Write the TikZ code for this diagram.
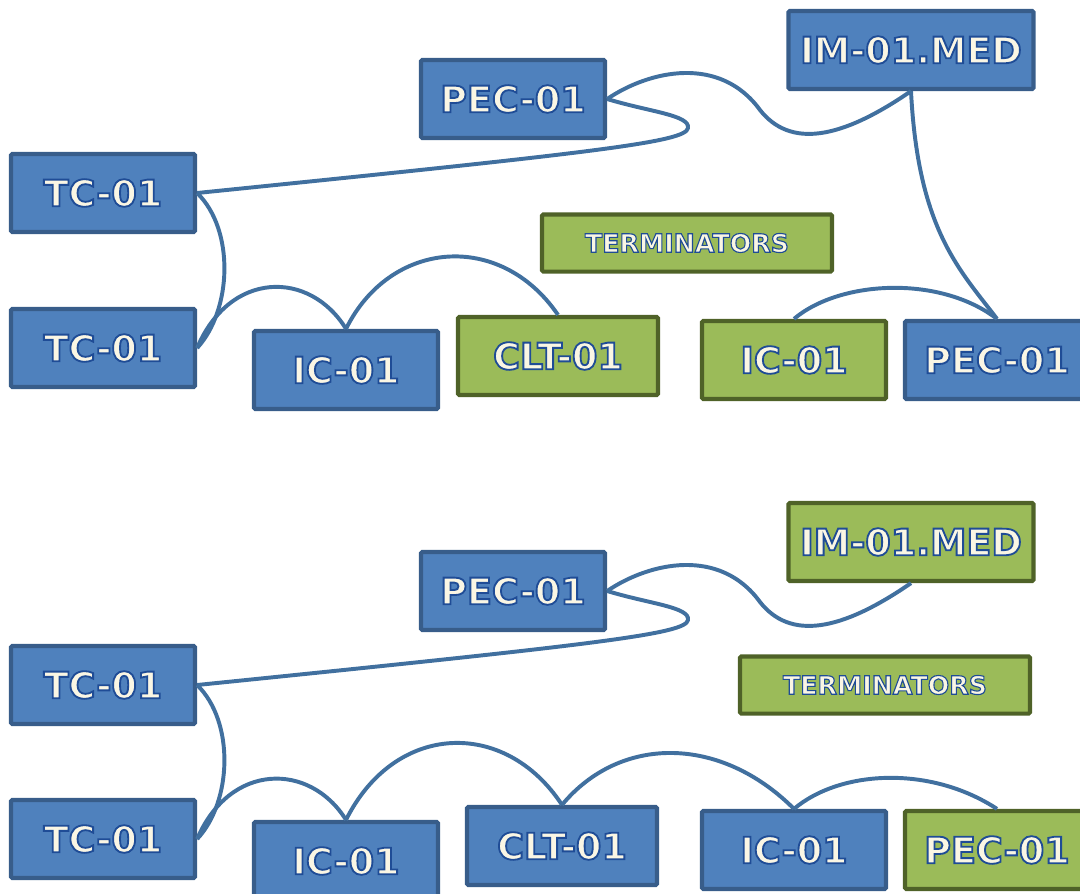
\documentclass[tikz,border=0pt]{standalone}
\usepackage{fontspec}
\setmainfont{DejaVu Sans}
\usepackage{tikz}
\usetikzlibrary{positioning,calc}
\definecolor{boxblue}{HTML}{4F81BD}
\definecolor{edgeblue}{HTML}{385D8A}
\definecolor{boxgreen}{HTML}{9BBB59}
\definecolor{edgegreen}{HTML}{4F6228}
\definecolor{linkblue}{HTML}{41709F}
\definecolor{txtfill}{HTML}{FAF6E4}
% outlined label: cream fill, dark blue stroke
\newcommand{\lbl}[2][1.3]{\special{pdf:literal direct 2 Tr #1 w 0.12 0.30 0.59 RG}#2\special{pdf:literal direct 0 Tr}}

\begin{document}
\begin{tikzpicture}[x=0.025cm, y=-0.025cm,
    base/.style={rectangle, rounded corners=1pt, line width=3pt, inner sep=0pt, text=txtfill,
        minimum width=4.6cm, minimum height=1.95cm, font=\bfseries\fontsize{26}{28}\selectfont},
    bluebox/.style={base, fill=boxblue, draw=edgeblue},
    greenbox/.style={base, fill=boxgreen, draw=edgegreen},
    termbox/.style={greenbox, minimum width=7.25cm, minimum height=1.43cm,
        font=\bfseries\fontsize{18}{20}\selectfont},
    link/.style={draw=linkblue, line width=2.8pt}]
        \useasboundingbox (0,0) rectangle (1080,894);

        % top diagram, boxes
        \node[bluebox] (pecA) at (513,99) {\lbl{PEC-01}};
        \node[bluebox, minimum width=6.125cm] (imA) at (911,50) {\lbl{IM-01.MED}};
        \node[bluebox] (tcA) at (103,193) {\lbl{TC-01}};
        \node[bluebox] (tcB) at (103,348) {\lbl{TC-01}};
        \node[termbox] (termA) at (687,243) {\lbl[0.8]{TERMINATORS}};
        \node[bluebox] (icA) at (346,370) {\lbl{IC-01}};
        \node[greenbox, minimum width=5cm] (cltA) at (558,356) {\lbl{CLT-01}};
        \node[greenbox] (icB) at (794,360) {\lbl{IC-01}};
        \node[bluebox] (pecB) at (997,360) {\lbl{PEC-01}};

        % top diagram, links
        \draw[link] (pecA.east) .. controls (650,112) and (690,115) .. (688,128)
            .. controls (686,142) and (600,152) .. (tcA.east);
        \draw[link] (pecA.east) .. controls (650,70) and (720,55) .. (760,110)
            .. controls (790,148) and (840,140) .. (imA.south);
        \draw[link] (imA.south) .. controls (918,230) and (960,270) .. (pecB.north);
        \draw[link] (icB.north) .. controls (840,280) and (940,275) .. (pecB.north);
        \draw[link] (tcA.east) .. controls (235,230) and (232,310) .. (tcB.east);
        \draw[link] (tcB.east) .. controls (230,270) and (310,270) .. (icA.north);
        \draw[link] (icA.north) .. controls (390,240) and (500,230) .. (cltA.north);

        % bottom diagram, boxes
        \node[bluebox] (pecC) at (513,591) {\lbl{PEC-01}};
        \node[greenbox, minimum width=6.125cm] (imB) at (911,542) {\lbl{IM-01.MED}};
        \node[bluebox] (tcC) at (103,685) {\lbl{TC-01}};
        \node[termbox] (termB) at (885,685) {\lbl[0.8]{TERMINATORS}};
        \node[bluebox] (tcD) at (103,839) {\lbl{TC-01}};
        \node[bluebox] (icC) at (346,861) {\lbl{IC-01}};
        \node[bluebox, minimum width=4.75cm] (cltB) at (562,846) {\lbl{CLT-01}};
        \node[bluebox] (icD) at (794,850) {\lbl{IC-01}};
        \node[greenbox] (pecD) at (997,850) {\lbl{PEC-01}};

        % bottom diagram, links
        \draw[link] (pecC.east) .. controls (650,604) and (690,607) .. (688,620)
            .. controls (686,634) and (600,644) .. (tcC.east);
        \draw[link] (pecC.east) .. controls (650,562) and (720,547) .. (760,602)
            .. controls (790,640) and (840,632) .. (imB.south);
        \draw[link] (tcC.east) .. controls (235,722) and (232,802) .. (tcD.east);
        \draw[link] (tcD.east) .. controls (230,762) and (310,762) .. (icC.north);
        \draw[link] (icC.north) .. controls (395,722) and (505,718) .. (cltB.north);
        \draw[link] (cltB.north) .. controls (620,735) and (720,735) .. (icD.north);
        \draw[link] (icD.north) .. controls (840,770) and (930,765) .. (pecD.north);

    \end{tikzpicture}
\end{document}
